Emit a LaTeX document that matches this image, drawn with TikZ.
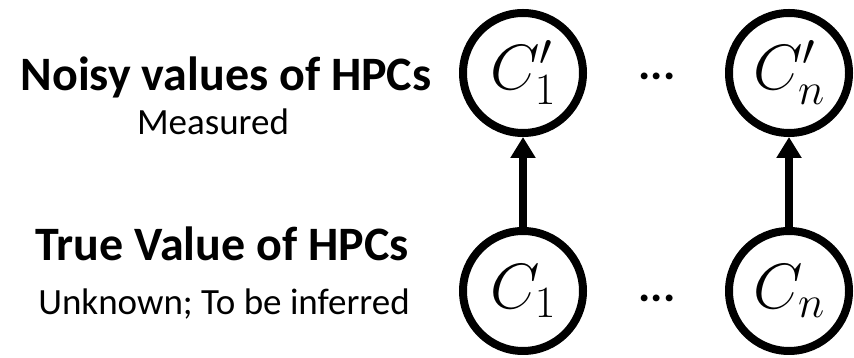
\RequirePackage{fix-cm}
\documentclass[tikz,border=0pt]{standalone}
\usepackage{fontspec}
\setmainfont{Carlito}
\usetikzlibrary{arrows.meta}
\begin{document}
\begin{tikzpicture}[x=1pt,y=1pt,
  var/.style={circle,draw=black,line width=8pt,minimum size=120pt,inner sep=0pt,
    font=\fontsize{64}{64}\selectfont},
  edge/.style={line width=7.5pt,-{Triangle[length=21pt,width=24pt]}},
  heading/.style={anchor=base,font=\bfseries\fontsize{48}{48}\selectfont},
  note/.style={anchor=base,font=\fontsize{37}{37}\selectfont},
  dotsnode/.style={font=\bfseries\fontsize{46}{46}\selectfont}]
  \useasboundingbox (0,0) rectangle (854,358);

  % observed (noisy) counters
  \node[var] (c1p) at (523,285) {$C'_1$};
  \node[var] (cnp) at (789,285) {$C'_n$};
  % latent (true) counters
  \node[var] (c1) at (523,67) {$C_1$};
  \node[var] (cn) at (789,67) {$C_n$};

  \node[dotsnode] (dtop) at (657,282) {...};
  \node[dotsnode] (dbot) at (657,60) {...};

  \draw[edge] (c1) -- (c1p);
  \draw[edge] (cn) -- (cnp);

  % row labels
  \node[heading] (h1) at (226,267) {Noisy values of HPCs};
  \node[note] (n1) at (213,223) {Measured};
  \node[heading] (h2) at (222,97) {True Value of HPCs};
  \node[note] (n2) at (224,43) {Unknown; To be inferred};
\end{tikzpicture}
\end{document}
